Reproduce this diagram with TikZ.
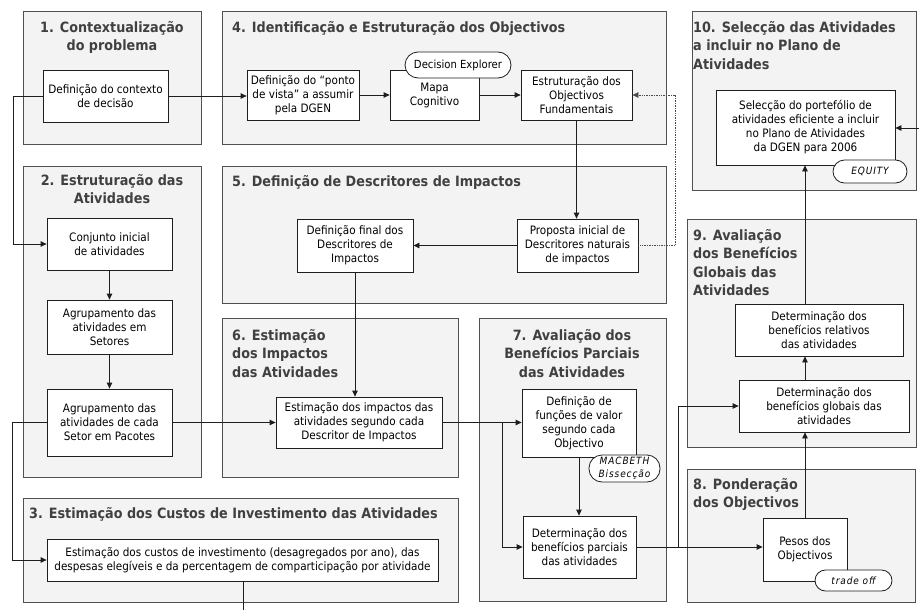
\documentclass[tikz,border=0pt]{standalone}
\usepackage{fontspec}
\setmainfont{DejaVu Sans Condensed}[
  BoldFont={DejaVu Sans Condensed Bold},
  ItalicFont={DejaVu Sans Condensed Oblique}]
\usetikzlibrary{arrows.meta}
\definecolor{panelfill}{HTML}{F3F3F3}
\definecolor{paneledge}{HTML}{505050}
\definecolor{titlegray}{HTML}{404040}
\definecolor{boxedge}{HTML}{1E1E1E}
\begin{document}
\begin{tikzpicture}[x=1pt,y=-1pt,
  panel/.style={draw=paneledge, fill=panelfill, line width=1pt},
  ptitle/.style={text=titlegray, inner sep=0pt, font=\fontsize{14.2}{18.5}\selectfont\bfseries},
  stepbox/.style={draw=boxedge, fill=white, line width=0.8pt, align=center,
    inner sep=0pt, font=\fontsize{11.6}{14}\selectfont},
  tool/.style={draw=boxedge, fill=white, line width=0.8pt, align=center,
    inner sep=0pt, rounded corners=#1},
  toolfont/.style={font=\fontsize{10}{13}\selectfont\itshape\addfontfeatures{LetterSpace=9}},
  flow/.style={draw=boxedge, line width=0.8pt, -{Triangle[length=6pt,width=5.5pt]}},
  link/.style={draw=boxedge, line width=0.8pt},
  feedback/.style={draw=boxedge!80, line width=0.7pt, densely dotted,
    -{Triangle[length=6pt,width=5.5pt]}},
]
\useasboundingbox (0,0) rectangle (919,610);

% ---------- panels ----------
\draw[panel] (23,12) rectangle (201,144);
\draw[panel] (23,166) rectangle (201,477);
\draw[panel] (23,498) rectangle (458,602);
\draw[panel] (222,12) rectangle (666,144);
\draw[panel] (222,166) rectangle (666,303);
\draw[panel] (222,318) rectangle (458,477);
\draw[panel] (479,318) rectangle (666,601);
\draw[panel] (687,469) rectangle (915,602);
\draw[panel] (687,219) rectangle (916,447);
\draw[panel] (692,12) rectangle (916,190);

% ---------- panel titles ----------
\node[ptitle, align=center, anchor=north] (t1) at (112,21) {1. Contextualização\\do problema};
\node[ptitle, align=center, anchor=north] (t2) at (112,174) {2. Estruturação das\\Atividades};
\node[ptitle, align=left, anchor=north west] (t3) at (29,507) {3. Estimação dos Custos de Investimento das Atividades};
\node[ptitle, align=left, anchor=north west] (t4) at (232,21) {4. Identificação e Estruturação dos Objectivos};
\node[ptitle, align=left, anchor=north west] (t5) at (232,175) {5. Definição de Descritores de Impactos};
\node[ptitle, align=left, anchor=north west] (t6) at (232,329) {6. Estimação\\dos Impactos\\das Atividades};
\node[ptitle, align=center, anchor=north] (t7) at (572,329) {7. Avaliação dos\\Benefícios Parciais\\das Atividades};
\node[ptitle, align=left, anchor=north west] (t8) at (693,478) {8. Ponderação\\dos Objectivos};
\node[ptitle, align=left, anchor=north west] (t9) at (693,229) {9. Avaliação\\dos Benefícios\\Globais das\\Atividades};
\node[ptitle, align=left, anchor=north west] (t10) at (693,21) {10. Selecção das Atividades\\a incluir no Plano de\\Atividades};

% ---------- process boxes ----------
\node[stepbox, minimum width=125, minimum height=52] (ctx) at (105.5,96) {Definição do contexto\\de decisão};
\node[stepbox, minimum width=125, minimum height=52] (conj) at (109.5,244) {Conjunto inicial\\de atividades};
\node[stepbox, minimum width=125, minimum height=54] (setores) at (109.5,327) {Agrupamento das\\atividades em\\Setores};
\node[stepbox, minimum width=125, minimum height=67] (pacotes) at (109.5,422.5) {Agrupamento das\\atividades de cada\\Setor em Pacotes};
\node[stepbox, minimum width=391, minimum height=42] (custos) at (242.5,560) {Estimação dos custos de investimento (desagregados por ano), das\\despesas elegíveis e da percentagem de comparticipação por atividade};
\node[stepbox, minimum width=112, minimum height=50] (ponto) at (303,95) {Definição do “ponto\\de vista" a assumir\\pela DGEN};
\node[stepbox, minimum width=89, minimum height=50] (mapa) at (434.5,95) {Mapa\\Cognitivo};
\node[stepbox, minimum width=111, minimum height=50] (estrut) at (576.5,95) {Estruturação dos\\Objectivos\\Fundamentais};
\node[stepbox, minimum width=116, minimum height=53] (final) at (355,245.5) {Definição final dos\\Descritores de\\Impactos};
\node[stepbox, minimum width=121, minimum height=53] (proposta) at (577.5,245.5) {Proposta inicial de\\Descritores naturais\\de impactos};
\node[stepbox, minimum width=166, minimum height=51] (impactos) at (359,422.5) {Estimação dos impactos das\\atividades segundo cada\\Descritor de Impactos};
\node[stepbox, minimum width=114, minimum height=68] (funcoes) at (579,423) {Definição de\\funções de valor\\segundo cada\\Objectivo};
\node[stepbox, minimum width=113, minimum height=62] (parciais) at (579.5,547) {Determinação dos\\benefícios parciais\\das atividades};
\node[stepbox, minimum width=84, minimum height=63] (pesos) at (805,549.5) {Pesos dos\\Objectivos};
\node[stepbox, minimum width=168, minimum height=52] (relativos) at (819,330) {Determinação dos\\benefícios relativos\\das atividades};
\node[stepbox, minimum width=170, minimum height=52] (globais) at (824,406) {Determinação dos\\benefícios globais das\\atividades};
\node[stepbox, minimum width=179, minimum height=75] (sel) at (805.5,127.5) {Selecção do portefólio de\\atividades eficiente a incluir\\no Plano de Atividades\\da DGEN para 2006};

% ---------- software tags ----------
\node[tool=13pt, minimum width=106, minimum height=26, font=\fontsize{11.2}{13}\selectfont] (decexp) at (458,65) {Decision Explorer};
\node[tool=13pt, minimum width=71, minimum height=27, toolfont] (macbeth) at (624.5,468.5) {MACBETH\\Bissecção};
\node[tool=10.5pt, minimum width=77, minimum height=21, toolfont] (tradeoff) at (853.5,580.5) {trade off};
\node[tool=11.5pt, minimum width=74, minimum height=23, toolfont] (equity) at (870,171.5) {EQUITY};

% ---------- routing points ----------
\coordinate (leftbus) at (13,0);
\coordinate (leftbusb) at (12,0);
\coordinate (fbx) at (675,0);
\coordinate (split1) at (502,422.5);
\coordinate (split2) at (678,547);
\coordinate (outdown) at (243,610);
\coordinate (inright) at (919,128);

% ---------- connectors ----------
\draw[flow] (ctx.east) -- (ponto.west |- ctx.east);
\draw[flow] (ctx.west) -- (ctx.west -| leftbus) |- (conj.west);
\draw[flow] (conj.south) -- (setores.north);
\draw[flow] (setores.south) -- (pacotes.north);
\draw[flow] (pacotes.east) -- (impactos.west);
\draw[flow] (pacotes.west) -- (pacotes.west -| leftbusb) |- (custos.west);
\draw[link] (custos.south -| outdown) -- (outdown);

\draw[flow] (ponto.east) -- (mapa.west);
\draw[flow] (mapa.east) -- (estrut.west);
\draw[flow] (estrut.south) -- (estrut.south |- proposta.north);
\draw[flow] (proposta.west) -- (final.east);
\draw[feedback] (proposta.east) -- (proposta.east -| fbx) |- (estrut.east);
\draw[flow] (final.south) -- (final.south |- impactos.north);

\draw[flow] (impactos.east) -- (funcoes.west |- impactos.east);
\draw[flow] (split1) |- (parciais.west);
\draw[flow] (funcoes.south) -- (funcoes.south |- parciais.north);
\draw[flow] (parciais.east) -- (pesos.west |- parciais.east);
\draw[flow] (split2) |- (globais.west);
\draw[flow] (pesos.north) -- (pesos.north |- globais.south);
\draw[flow] (globais.north -| pesos.north) -- (relativos.south -| pesos.north);
\draw[flow] (relativos.north -| pesos.north) -- (sel.south -| pesos.north);
\draw[flow] (inright) -- (sel.east |- inright);

\end{tikzpicture}
\end{document}
